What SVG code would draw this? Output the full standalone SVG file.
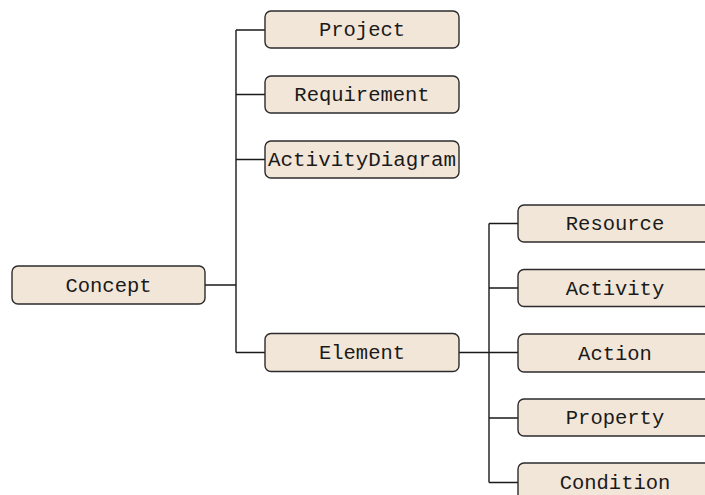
<svg xmlns="http://www.w3.org/2000/svg" width="705" height="495" viewBox="0 0 705 495">
<style>
.box{fill:#f2e6d8;stroke:#2b2b2b;stroke-width:1.4}
.lbl{font-family:"Liberation Mono","DejaVu Sans Mono",monospace;font-size:20.5px;fill:#1a1a1a;text-anchor:middle}
.con{fill:none;stroke:#1a1a1a;stroke-width:1.4}
</style>
<rect width="705" height="495" fill="#ffffff"/>
<g id="connectors">
<path class="con" d="M205,285 H236 M236,30 V352.5 M236,30 H265 M236,94.5 H265 M236,159.5 H265 M236,352.5 H265"/>
<path class="con" d="M459,352.5 H518 M489,223.5 V482.5 M489,223.5 H518 M489,288 H518 M489,418 H518 M489,482.5 H518"/>
</g>
<g id="concept"><rect class="box" x="12" y="266" width="193" height="38" rx="6"/><text class="lbl" x="108.5" y="292">Concept</text></g>
<g id="project"><rect class="box" x="265" y="11" width="194" height="37" rx="6"/><text class="lbl" x="362" y="36">Project</text></g>
<g id="requirement"><rect class="box" x="265" y="76" width="194" height="37" rx="6"/><text class="lbl" x="362" y="101">Requirement</text></g>
<g id="activitydiagram"><rect class="box" x="265" y="141" width="194" height="37" rx="6"/><text class="lbl" x="362" y="166" textLength="188" lengthAdjust="spacingAndGlyphs">ActivityDiagram</text></g>
<g id="element"><rect class="box" x="265" y="333.5" width="194" height="38" rx="6"/><text class="lbl" x="362" y="359">Element</text></g>
<g id="resource"><rect class="box" x="518" y="205" width="194" height="37" rx="6"/><text class="lbl" x="615" y="230">Resource</text></g>
<g id="activity"><rect class="box" x="518" y="269.5" width="194" height="37" rx="6"/><text class="lbl" x="615" y="294.5">Activity</text></g>
<g id="action"><rect class="box" x="518" y="334" width="194" height="38" rx="6"/><text class="lbl" x="615" y="359.5">Action</text></g>
<g id="property"><rect class="box" x="518" y="399" width="194" height="37" rx="6"/><text class="lbl" x="615" y="424">Property</text></g>
<g id="condition"><rect class="box" x="518" y="463" width="194" height="38" rx="6"/><text class="lbl" x="615" y="489">Condition</text></g>
</svg>
